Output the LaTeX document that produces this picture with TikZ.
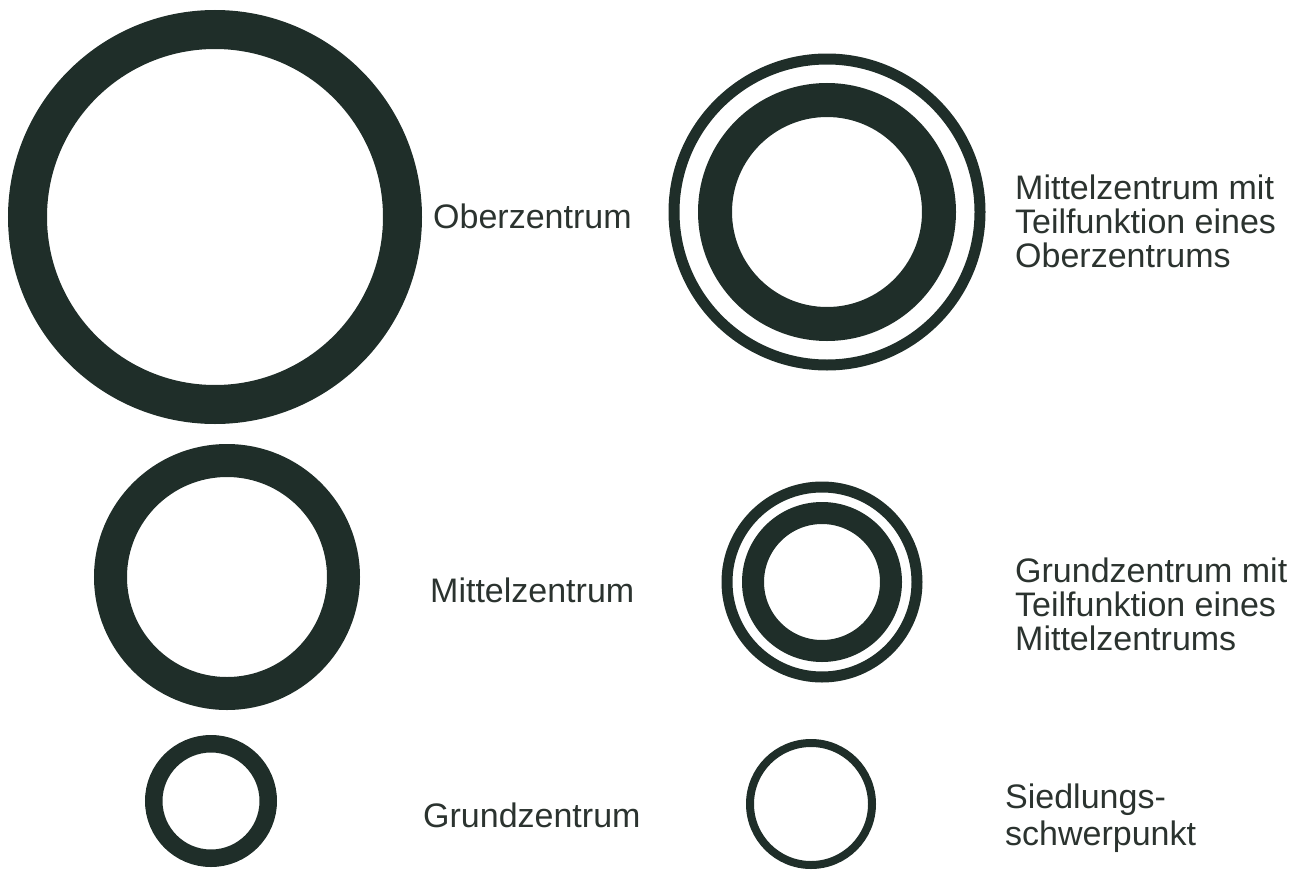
\documentclass[tikz,border=0pt]{standalone}
\usepackage{fontspec}
\setmainfont{Liberation Sans}
\definecolor{ringcol}{HTML}{1F2E29}
\definecolor{labelcol}{HTML}{2B332F}
\tikzset{
	ring/.style={shape=circle, draw=ringcol, line width=#1, inner sep=0pt, outer sep=0pt},
	legendtext/.style={anchor=base west, inner sep=0pt, align=left, text=labelcol,
		font=\fontsize{34}{34}\selectfont}
}

\begin{document}
\begin{tikzpicture}[x=1pt, y=-1pt]
	\useasboundingbox (0, 0) rectangle (1299, 870);
	% Rings, left column:
	\node[ring=39pt, minimum size=375pt] (oz) at (215, 217){};
	\node[ring=33pt, minimum size=233pt] (mz) at (227, 577){};
	\node[ring=17.5pt, minimum size=114.5pt] (gz) at (211, 801){};
	% Rings, right column:
	\node[ring=34pt, minimum size=224pt] (mzt) at (827, 212){};
	\node[ring=11pt, minimum size=306pt] (mzto) at (827, 212){};
	\node[ring=22pt, minimum size=138pt] (gzt) at (822, 582){};
	\node[ring=11pt, minimum size=190pt] (gzto) at (822, 582){};
	\node[ring=8pt, minimum size=122pt] (ssp) at (811, 804){};
	% Labels (base = last line):
	\node[legendtext] (ozlabel) at (433, 228){Oberzentrum};
	\node[legendtext] (mzlabel) at (430, 602){Mittelzentrum};
	\node[legendtext] (gzlabel) at (423, 827){Grundzentrum};
	\node[legendtext] (mztlabel) at (1015, 267){Mittelzentrum mit\\Teilfunktion eines\\Oberzentrums};
	\node[legendtext] (gztlabel) at (1015, 650){Grundzentrum mit\\Teilfunktion eines\\Mittelzentrums};
	\node[legendtext] (ssplabel) at (1005, 845){Siedlungs-\\[3pt]schwerpunkt};
\end{tikzpicture}
\end{document}
